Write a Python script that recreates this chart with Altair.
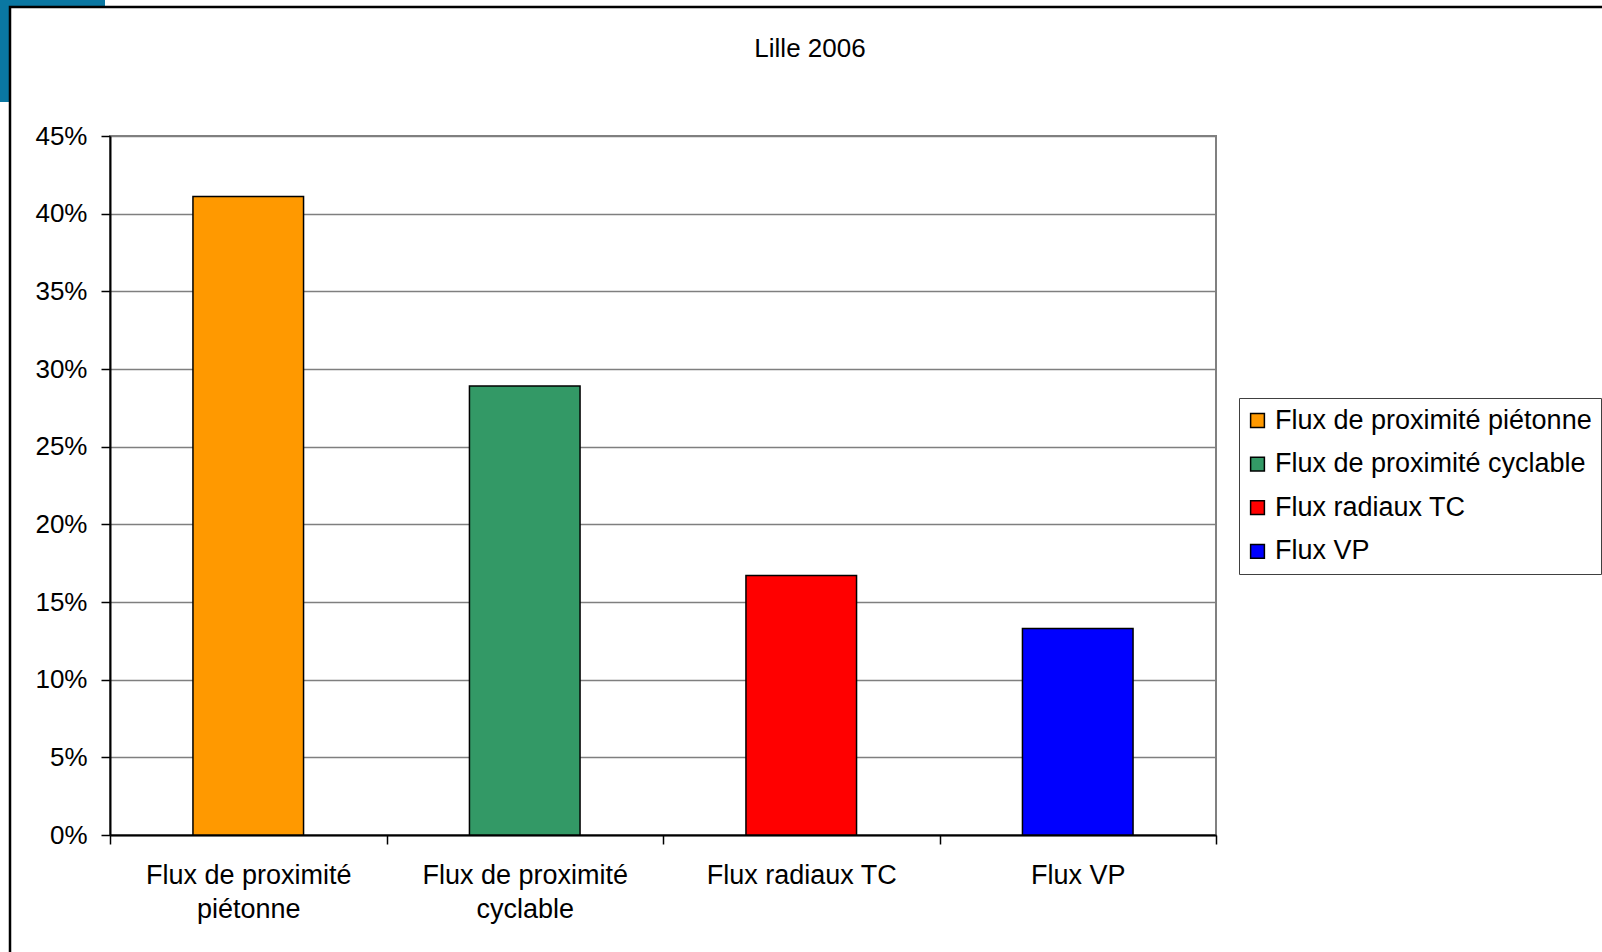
import altair as alt
import pandas as pd

# Modal shares of trips, Lille 2006
chart_title = "Lille 2006"
categories = [
    "Flux de proximité piétonne",
    "Flux de proximité cyclable",
    "Flux radiaux TC",
    "Flux VP",
]
shares = [0.411, 0.289, 0.167, 0.133]
colors = ["#FF9900", "#339966", "#FF0000", "#0000FF"]
# axis labels broken over two lines
label_lines = [
    ["Flux de proximité", "piétonne"],
    ["Flux de proximité", "cyclable"],
    ["Flux radiaux TC"],
    ["Flux VP"],
]
y_ticks = [0, 0.05, 0.10, 0.15, 0.20, 0.25, 0.30, 0.35, 0.40, 0.45]

FONT = "Liberation Sans"
FS = 26
FS_LABEL = 27

df = pd.DataFrame({"flux": categories, "part": shares})

# multi-line label expression for the category axis
expr = "datum.label"
for name, lines in reversed(list(zip(categories, label_lines))):
    arr = "[" + ", ".join("'" + s + "'" for s in lines) + "]"
    expr = f"datum.label == '{name}' ? {arr} : ({expr})"

bars = (
    alt.Chart(df)
    .mark_bar(width={"band": 0.4}, stroke="black", strokeWidth=1.5)
    .encode(
        x=alt.X(
            "flux:N",
            sort=categories,
            scale=alt.Scale(paddingInner=0, paddingOuter=0),
            axis=alt.Axis(
                title=None,
                labelAngle=0,
                labelExpr=expr,
                labelLimit=0,
                labelFont=FONT,
                labelFontSize=FS_LABEL,
                labelColor="black",
                labelLineHeight=34,
                labelPadding=18,
                tickBand="extent",
                tickSize=9,
                tickColor="black",
                tickWidth=1.5,
                domainColor="black",
                domainWidth=2,
                grid=False,
            ),
        ),
        y=alt.Y(
            "part:Q",
            scale=alt.Scale(domain=[0, 0.45], nice=False),
            axis=alt.Axis(
                title=None,
                values=y_ticks,
                format=".0%",
                labelFont=FONT,
                labelFontSize=FS,
                labelColor="black",
                labelPadding=14,
                tickSize=9,
                tickColor="black",
                tickWidth=1.5,
                domainColor="black",
                domainWidth=2,
                grid=True,
                gridColor="#7f7f7f",
                gridWidth=1.5,
            ),
        ),
        color=alt.Color(
            "flux:N",
            sort=categories,
            scale=alt.Scale(domain=categories, range=colors),
            legend=alt.Legend(
                title=None,
                orient="none",
                legendX=1129,
                legendY=262,
                labelFont=FONT,
                labelFontSize=FS_LABEL,
                labelColor="black",
                labelLimit=0,
                labelOffset=4,
                symbolOffset=-4,
                symbolType="square",
                symbolSize=190,
                symbolStrokeColor="black",
                symbolStrokeWidth=1.5,
                rowPadding=15.6,
                padding=9,
                strokeColor="#404040",
                fillColor="white",
            ),
        ),
    )
)

one = pd.DataFrame({"k": [0]})

# slide decoration: blue corner strips and the black frame of the chart object
corner_top = alt.Chart(one).mark_rect(color="#0a77a2").encode(
    x=alt.value(-110), x2=alt.value(-5), y=alt.value(-136), y2=alt.value(-129)
)
corner_left = alt.Chart(one).mark_rect(color="#0a77a2").encode(
    x=alt.value(-110), x2=alt.value(-100), y=alt.value(-136), y2=alt.value(-34)
)
frame = alt.Chart(one).mark_rect(
    fill=None, fillOpacity=0, stroke="black", strokeWidth=2.5
).encode(
    x=alt.value(-100), x2=alt.value(1600), y=alt.value(-129), y2=alt.value(900)
)

# chart title
title = alt.Chart(pd.DataFrame({"t": [chart_title]})).mark_text(
    font=FONT, fontSize=FS, color="black", align="center", baseline="alphabetic"
).encode(text="t:N", x=alt.value(700), y=alt.value(-79))

chart = (
    alt.layer(corner_top, corner_left, frame, title, bars)
    .properties(
        width=1106,
        height=699,
        background="white",
        autosize=alt.AutoSizeParams(type="none"),
        padding={"left": 110, "top": 136, "right": 386, "bottom": 117},
    )
    .configure_view(stroke="#808080", strokeWidth=2, strokeOpacity=1)
)

chart.save("out.html", embed_options={"renderer": "svg", "actions": False})
